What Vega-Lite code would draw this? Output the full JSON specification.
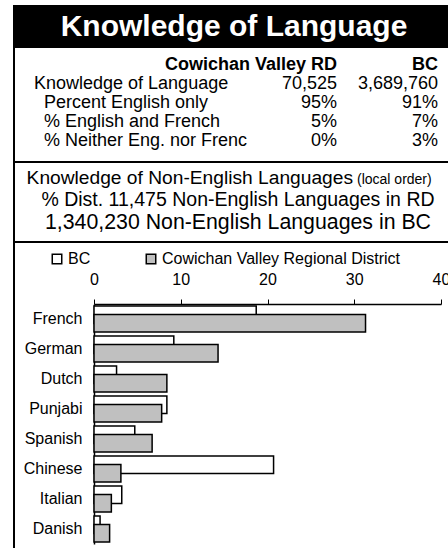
{
  "$schema": "https://vega.github.io/schema/vega-lite/v6.json",
  "padding": {"left": 13, "top": 5, "right": 0, "bottom": 0},
  "spacing": 0,
  "bounds": "flush",
  "config": {
    "font": "Liberation Sans",
    "view": {"stroke": "black", "strokeWidth": 2},
    "text": {"color": "black"}
  },
  "vconcat": [
    {
      "width": 440,
      "height": 41,
      "view": {"fill": "black", "stroke": "black", "strokeWidth": 2},
      "data": {"values": [{"t": "Knowledge of Language"}]},
      "mark": {"type": "text", "color": "white", "fontSize": 30, "fontWeight": "bold", "baseline": "middle"},
      "encoding": {"text": {"field": "t"}}
    },
    {
      "width": 440,
      "height": 115,
      "data": {"values": [
        {"row": "h", "kind": "header", "label": "", "rd": "Cowichan Valley RD", "bc": "BC"},
        {"row": "r1", "kind": "main", "label": "Knowledge of Language", "rd": "70,525", "bc": "3,689,760"},
        {"row": "r2", "kind": "sub", "label": "Percent English only", "rd": "95%", "bc": "91%"},
        {"row": "r3", "kind": "sub", "label": "% English and French", "rd": "5%", "bc": "7%"},
        {"row": "r4", "kind": "sub", "label": "% Neither Eng. nor French", "rd": "0%", "bc": "3%"}
      ]},
      "transform": [{"fold": ["label", "rd", "bc"], "as": ["col", "txt"]}],
      "encoding": {
        "x": {"field": "col", "type": "nominal", "scale": {"type": "point", "domain": ["label", "c1", "c2", "rd", "bc"], "range": [20, 424], "padding": 0}, "axis": null},
        "y": {"field": "row", "type": "nominal", "scale": {"type": "point", "domain": ["h", "r1", "r2", "r3", "r4"], "range": [18, 94], "padding": 0}, "axis": null},
        "text": {"field": "txt"}
      },
      "layer": [
        {"transform": [{"filter": "datum.kind === 'header' && datum.col !== 'label'"}],
         "mark": {"type": "text", "align": "right", "baseline": "middle", "fontWeight": "bold", "fontSize": 18}},
        {"transform": [{"filter": "datum.kind === 'main' && datum.col === 'label'"}],
         "mark": {"type": "text", "align": "left", "baseline": "middle", "fontSize": 18}},
        {"transform": [{"filter": "datum.kind === 'sub' && datum.col === 'label'"}],
         "mark": {"type": "text", "align": "left", "baseline": "middle", "dx": 10, "limit": 206, "ellipsis": "\u200b", "fontSize": 18}},
        {"transform": [{"filter": "datum.kind !== 'header' && datum.col !== 'label'"}],
         "mark": {"type": "text", "align": "right", "baseline": "middle", "fontSize": 18}}
      ]
    },
    {
      "width": 440,
      "height": 80,
      "data": {"values": [
        {"line": "a", "part": "main", "txt": "Knowledge of Non-English Languages"},
        {"line": "a", "part": "note", "txt": "(local order)"},
        {"line": "b", "part": "mid", "txt": "% Dist. 11,475 Non-English Languages in RD"},
        {"line": "c", "part": "big", "txt": "1,340,230 Non-English Languages in BC"}
      ]},
      "encoding": {
        "y": {"field": "line", "type": "nominal", "scale": {"type": "point", "domain": ["a", "b", "c"], "range": [15, 61], "padding": 0}, "axis": null},
        "text": {"field": "txt"}
      },
      "layer": [
        {"transform": [{"filter": "datum.part === 'main'"}],
         "mark": {"type": "text", "align": "right", "baseline": "alphabetic", "dx": 119, "dy": 7, "fontSize": 19.2}},
        {"transform": [{"filter": "datum.part === 'note'"}],
         "mark": {"type": "text", "align": "left", "baseline": "alphabetic", "dx": 123, "dy": 7, "fontSize": 14}},
        {"transform": [{"filter": "datum.part === 'mid'"}],
         "mark": {"type": "text", "baseline": "middle", "dx": 4, "fontSize": 19.5}},
        {"transform": [{"filter": "datum.part === 'big'"}],
         "mark": {"type": "text", "baseline": "middle", "dx": 4, "fontSize": 21.3}}
      ]
    },
    {
      "width": 440,
      "height": 310,
      "data": {"values": [
        {"lang": "French", "series": "BC", "pct": 18.7},
        {"lang": "French", "series": "Cowichan Valley Regional District", "pct": 31.3},
        {"lang": "German", "series": "BC", "pct": 9.2},
        {"lang": "German", "series": "Cowichan Valley Regional District", "pct": 14.3},
        {"lang": "Dutch", "series": "BC", "pct": 2.6},
        {"lang": "Dutch", "series": "Cowichan Valley Regional District", "pct": 8.4},
        {"lang": "Punjabi", "series": "BC", "pct": 8.4},
        {"lang": "Punjabi", "series": "Cowichan Valley Regional District", "pct": 7.8},
        {"lang": "Spanish", "series": "BC", "pct": 4.7},
        {"lang": "Spanish", "series": "Cowichan Valley Regional District", "pct": 6.7},
        {"lang": "Chinese", "series": "BC", "pct": 20.7},
        {"lang": "Chinese", "series": "Cowichan Valley Regional District", "pct": 3.1},
        {"lang": "Italian", "series": "BC", "pct": 3.2},
        {"lang": "Italian", "series": "Cowichan Valley Regional District", "pct": 2.0},
        {"lang": "Danish", "series": "BC", "pct": 0.7},
        {"lang": "Danish", "series": "Cowichan Valley Regional District", "pct": 1.8}
      ]},
      "encoding": {
        "y": {"field": "lang", "type": "nominal",
              "sort": ["French", "German", "Dutch", "Punjabi", "Spanish", "Chinese", "Italian", "Danish"],
              "scale": {"range": [62, 302], "paddingInner": 0, "paddingOuter": 0},
              "axis": {"title": null, "offset": -80, "ticks": false, "labelPadding": 12, "labelFontSize": 16, "labelColor": "black", "domainColor": "black", "domainWidth": 1.5}},
        "x": {"field": "pct", "type": "quantitative",
              "scale": {"domain": [0, 40], "range": [80, 427], "nice": false},
              "axis": {"title": null, "orient": "top", "offset": -62, "values": [0, 10, 20, 30, 40], "grid": false, "tickSize": 5, "tickColor": "black", "labelPadding": 12, "labelFontSize": 16, "labelColor": "black", "labelFlush": false, "domainColor": "black", "domainWidth": 1.5}},
        "color": {"field": "series", "type": "nominal",
                  "scale": {"domain": ["BC", "Cowichan Valley Regional District"], "range": ["#ffffff", "#c0c0c0"]},
                  "legend": {"title": null, "orient": "none", "legendX": 35, "legendY": 245, "direction": "horizontal", "symbolType": "square", "symbolSize": 90, "symbolStrokeColor": "black", "symbolStrokeWidth": 1.5, "symbolOpacity": 1, "labelFontSize": 16, "labelColor": "black", "labelLimit": 400, "columnPadding": 52, "padding": 0, "labelOffset": 3}}
      },
      "layer": [
        {"transform": [{"filter": "datum.series === 'BC'"}],
         "mark": {"type": "bar", "height": 17.5, "yOffset": -4.2, "stroke": "black", "strokeWidth": 1.5, "opacity": 1}},
        {"transform": [{"filter": "datum.series !== 'BC'"}],
         "mark": {"type": "bar", "height": 17.5, "yOffset": 4.2, "stroke": "black", "strokeWidth": 1.5, "opacity": 1}}
      ]
    }
  ]
}
